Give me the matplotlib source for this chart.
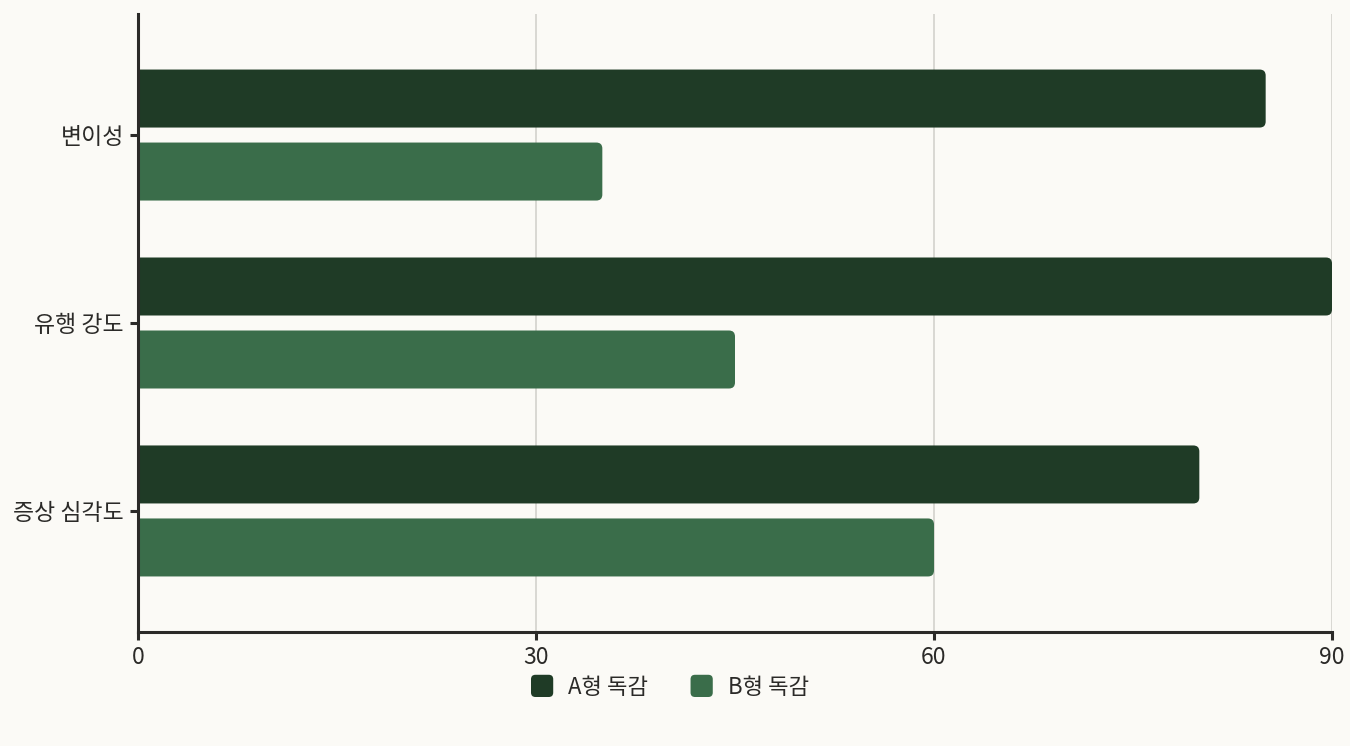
import matplotlib
matplotlib.use("Agg")
import matplotlib.pyplot as plt
from matplotlib.patches import FancyBboxPatch, Patch
from matplotlib.legend_handler import HandlerBase
import numpy as np

plt.rcParams['font.family'] = ['Noto Sans CJK KR', 'DejaVu Sans']

categories = ["변이성", "유행 강도", "증상 심각도"]
series_names = ["A형 독감", "B형 독감"]
values_a = [85, 90, 80]
values_b = [35, 45, 60]
x_ticks = [0, 30, 60, 90]

colors = ["#1F3B26", "#3A6D4A"]
bg = "#FBFAF6"
axis_col = "#2B2A28"

W, H = 1350, 746
fig = plt.figure(figsize=(W / 100, H / 100), dpi=100, facecolor=bg)
left, right, top, bottom = 138, 1332, 14, 632
ax = fig.add_axes([left / W, 1 - bottom / H, (right - left) / W, (bottom - top) / H])
ax.set_facecolor(bg)

ax.set_xlim(0, 90)
ax.set_ylim(len(categories) - 1 + 0.644, -0.644)

ax_w_px = right - left
ax_h_px = bottom - top
xu_per_px = 90 / ax_w_px
yu_per_px = (len(categories) - 1 + 1.288) / ax_h_px

bar_h = 58 * yu_per_px
gap = 15 * yu_per_px
radius = 6 * xu_per_px
aspect = yu_per_px / xu_per_px

y = np.arange(len(categories))
for vals, col, off in [(values_a, colors[0], -(gap / 2 + bar_h / 2)),
                       (values_b, colors[1], (gap / 2 + bar_h / 2))]:
    for yi, v in zip(y, vals):
        start = -3 * radius
        p = FancyBboxPatch((start, yi + off - bar_h / 2), v - start, bar_h,
                           boxstyle=f"round,pad=0,rounding_size={radius}",
                           mutation_aspect=aspect, facecolor=col,
                           edgecolor='none', zorder=3, clip_on=True)
        ax.add_patch(p)

ax.set_xticks(x_ticks)
ax.set_xticklabels([str(t) for t in x_ticks])
ax.set_yticks(y)
ax.set_yticklabels(categories)
ax.tick_params(axis='both', labelsize=16.5, colors=axis_col, length=6, width=2.2, pad=4)
ax.tick_params(axis='x', pad=4)

ax.grid(axis='x', color='#D3D2CC', linewidth=1.2, zorder=0)
ax.set_axisbelow(True)
for s in ['top', 'right']:
    ax.spines[s].set_visible(False)
for s in ['left', 'bottom']:
    ax.spines[s].set_color(axis_col)
    ax.spines[s].set_linewidth(2.2)
    ax.spines[s].set_zorder(4)


class RoundHandler(HandlerBase):
    def create_artists(self, legend, orig_handle, xdescent, ydescent, width, height, fontsize, trans):
        s = 16
        x0 = -xdescent + (width - s) / 2
        y0 = -ydescent + (height - s) / 2
        p = FancyBboxPatch((x0, y0), s, s, boxstyle=f"round,pad=0,rounding_size={s*0.2}",
                           facecolor=orig_handle.get_facecolor(), edgecolor='none',
                           transform=trans)
        return [p]


handles = [Patch(facecolor=c) for c in colors]
fig.legend(handles, series_names, loc='center', bbox_to_anchor=(670 / W, 1 - 687 / H),
           ncol=2, frameon=False, fontsize=16, handler_map={Patch: RoundHandler()},
           handlelength=1.0, handleheight=1.0, handletextpad=0.68, columnspacing=1.9,
           labelcolor=axis_col)

fig.savefig("out.png", dpi=100, facecolor=bg)
